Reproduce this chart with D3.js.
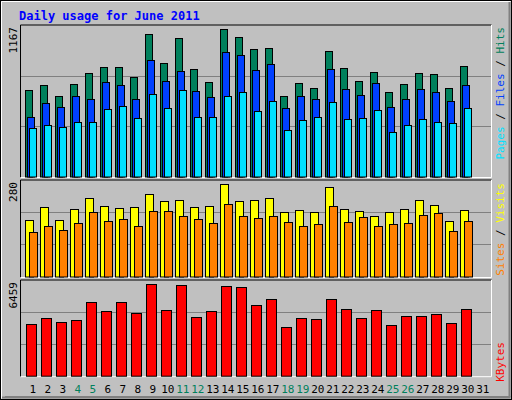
<!DOCTYPE html>
<html><head><meta charset="utf-8">
<script src="https://cdn.jsdelivr.net/npm/d3@7"></script>
<style>body{margin:0;background:#fff}</style></head>
<body><svg id="c" width="512" height="400"></svg>
<script>
const days = d3.range(1,32);
const weekends = [4,5,11,12,18,19,25,26];
const hits = [682,729,642,737,817,865,865,785,1127,896,1095,849,753,1167,1103,1008,1016,642,745,705,992,857,761,825,666,737,817,809,698,873];
const files = [475,586,554,642,618,753,729,618,920,761,833,674,634,984,960,841,888,546,642,618,849,690,650,745,554,618,690,666,602,729];
const pages = [387,411,395,435,435,538,562,467,658,546,682,475,475,642,666,522,602,371,451,475,594,459,467,530,355,411,459,435,427,546];
const sites = [173,210,173,204,237,213,207,210,250,228,231,210,213,280,228,231,237,195,201,195,271,204,198,183,195,204,231,216,170,201];
const visits = [134,152,140,161,195,170,174,152,198,198,183,174,161,219,183,177,183,164,152,158,213,164,180,152,158,161,186,192,137,170];
const kbytes = [3630,4054,3771,3913,5185,4549,5185,4408,6459,4620,6388,4125,4549,6317,6246,4973,5398,3418,4054,3983,5398,4690,4054,4620,3559,4196,4196,4337,3700,4690];

const svg = d3.select("#c");
const font = "'DejaVu Sans Mono', monospace";
svg.append("rect").attr("width",512).attr("height",400).attr("fill","#c0c0c0");
// outer bevel
svg.append("rect").attr("x",0.5).attr("y",0.5).attr("width",511).attr("height",399).attr("fill","none").attr("stroke","#000");
svg.append("path").attr("d","M1.5,398.5V1.5H510.5").attr("stroke","#fff").attr("fill","none");
svg.append("path").attr("d","M2,397.5H509.5V2").attr("stroke","#808080").attr("stroke-width",2).attr("fill","none");
svg.append("path").attr("d","M5,396.5H510.5").attr("stroke","#808080").attr("fill","none");

svg.append("text").attr("x",19).attr("y",20).attr("font-family",font).attr("font-weight","bold")
  .attr("font-size",12).attr("fill","#0000ff").text("Daily usage for June 2011");

const x = d3.scaleLinear().domain([1,32]).range([25.3,25.3+15*31]);
const L=20.5, R=491.5;
const panels = [
  {t:25,b:176.5,top:29.3,max:1167},
  {t:180,b:276.5,top:184.3,max:280},
  {t:280,b:375.7,top:284,max:6459}
];
panels.forEach(p=>{
  svg.append("rect").attr("x",L).attr("y",p.t).attr("width",R-L).attr("height",p.b-p.t+1).attr("fill","#c0c0c0");
  const h=p.b-p.t;
  [1,2].forEach(i=>svg.append("line").attr("x1",L).attr("x2",R).attr("y1",Math.round(p.t+h*i/3)+0.5).attr("y2",Math.round(p.t+h*i/3)+0.5).attr("stroke","#808080"));
  svg.append("path").attr("d",`M${L},${p.b+1}V${p.t}H${R}`).attr("stroke","#000").attr("fill","none");
  svg.append("path").attr("d",`M${L},${p.b+1}H${R}V${p.t}`).attr("stroke","#fff").attr("fill","none");
  p.y=d3.scaleLinear().domain([0,p.max]).range([p.b,p.top]);
  svg.append("text").attr("transform",`translate(17,${p.t+2}) rotate(-90)`).attr("text-anchor","end")
    .attr("font-family",font).attr("font-size",11).attr("fill","#000").text(p.max);
});
function bars(data,p,off,w,color){
  svg.append("g").selectAll("rect").data(data).join("rect")
    .attr("x",(d,i)=>Math.round(x(i+1)+off)+0.5).attr("y",d=>Math.round(p.y(d))+0.5)
    .attr("width",w).attr("height",d=>p.b-Math.round(p.y(d)))
    .attr("fill",color).attr("stroke","#000");
}
bars(hits,panels[0],0,7,"#00805c");
bars(files,panels[0],2,7,"#0040ff");
bars(pages,panels[0],4,7,"#00e0ff");
bars(sites,panels[1],0,8,"#ffff00");
bars(visits,panels[1],4,8,"#ff8000");
bars(kbytes,panels[2],1,10,"#ff0000");

svg.append("g").selectAll("text").data(days).join("text")
  .attr("x",d=>x(d)+7.5).attr("y",393).attr("text-anchor","middle")
  .attr("font-family",font).attr("font-size",11)
  .attr("fill",d=>weekends.includes(d)?"#00805c":"#000").text(d=>d);

function legend(y,parts){
  const t=svg.append("text").attr("transform",`translate(504,${y}) rotate(-90)`).attr("text-anchor","end")
    .attr("font-family",font).attr("font-size",11);
  parts.forEach(([s,c])=>t.append("tspan").attr("fill",c).text(s));
}
legend(27,[["Pages","#00e0ff"],[" / ","#000"],["Files","#0040ff"],[" / ","#000"],["Hits","#00805c"]]);
legend(183,[["Sites","#ff8000"],[" / ","#000"],["Visits","#ffff00"]]);
legend(342,[["KBytes","#ff0000"]]);
</script></body></html>
